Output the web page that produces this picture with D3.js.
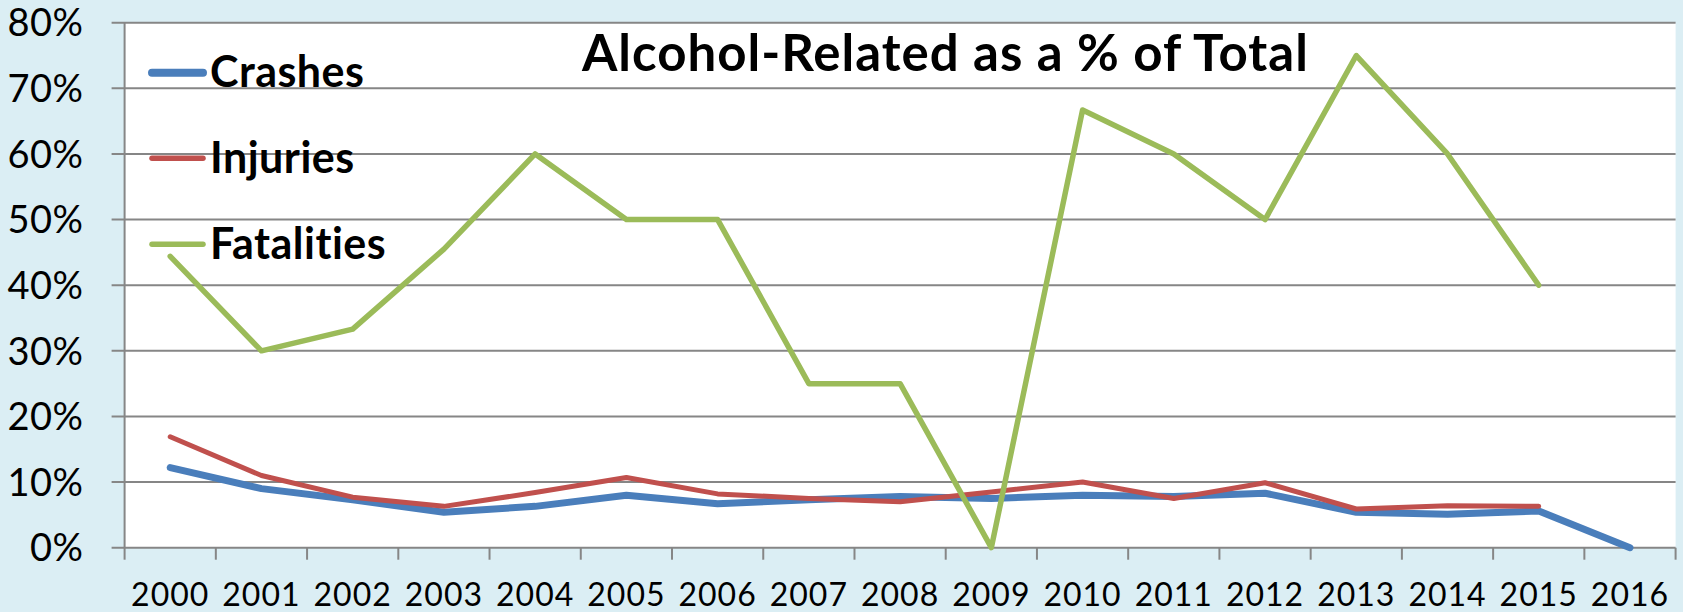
<!DOCTYPE html>
<html>
<head>
<meta charset="utf-8">
<script src="https://cdn.jsdelivr.net/npm/d3@7"></script>
<style>
html,body{margin:0;padding:0;background:#DBEEF4;}
svg{display:block;}
</style>
</head>
<body>
<svg id="chart" width="1683" height="612"></svg>
<script>
const years = ["2000","2001","2002","2003","2004","2005","2006","2007","2008","2009","2010","2011","2012","2013","2014","2015","2016"];
const crashes = [0.122,0.090,0.073,0.054,0.063,0.080,0.067,0.073,0.078,0.075,0.080,0.078,0.083,0.054,0.051,0.056,0.0];
const injuries = [0.169,0.110,0.077,0.063,0.084,0.107,0.082,0.075,0.070,0.085,0.100,0.075,0.099,0.059,0.064,0.063,null];
const fatalities = [0.444,0.300,0.333,0.455,0.600,0.500,0.500,0.250,0.250,0.0,0.667,0.600,0.500,0.750,0.600,0.400,null];
const yTicks = [0,0.1,0.2,0.3,0.4,0.5,0.6,0.7,0.8];
const seriesNames = ["Crashes","Injuries","Fatalities"];
const seriesColors = ["#4A7EBB","#C0504D","#9BBB59"];
const seriesWidths = [7,5,5.5];
const titleText = "Alcohol-Related as a % of Total";

const svg = d3.select("#chart");
const x0 = 124.6, x1 = 1675.6, yTop = 22.7, yBot = 547.7;
const x = d3.scaleBand().domain(years).range([x0, x1]);
const y = d3.scaleLinear().domain([0, 0.8]).range([yBot, yTop]);

// plot area
svg.append("rect").attr("x", x0).attr("y", yTop).attr("width", x1 - x0).attr("height", yBot - yTop).attr("fill", "#FFFFFF");

// gridlines + left ticks
svg.append("g").selectAll("line").data(yTicks).join("line")
  .attr("x1", x0 - 13).attr("x2", x1)
  .attr("y1", d => y(d)).attr("y2", d => y(d))
  .attr("stroke", "#868686").attr("stroke-width", 2);

// y axis line
svg.append("line").attr("x1", x0).attr("x2", x0).attr("y1", yTop).attr("y2", yBot)
  .attr("stroke", "#868686").attr("stroke-width", 2);

// x tick marks at category boundaries
const bounds = years.map(d => x(d)).concat([x1]);
svg.append("g").selectAll("line").data(bounds).join("line")
  .attr("x1", d => d).attr("x2", d => d).attr("y1", yBot).attr("y2", yBot + 12)
  .attr("stroke", "#868686").attr("stroke-width", 2);

// y labels
const fmt = d3.format(".0%");
svg.append("g").selectAll("text").data(yTicks).join("text")
  .attr("x", 83.5).attr("y", d => y(d))
  .attr("dy", "0.36em")
  .attr("text-anchor", "end")
  .attr("font-family", "Lato, 'Open Sans', sans-serif")
  .attr("font-size", 38)
  .attr("letter-spacing", 0.5)
  .attr("fill", "#000")
  .text(d => fmt(d));

// x labels
svg.append("g").selectAll("text").data(years).join("text")
  .attr("x", d => x(d) + x.bandwidth() / 2).attr("y", 606)
  .attr("text-anchor", "middle")
  .attr("font-family", "Lato, 'Open Sans', sans-serif")
  .attr("font-size", 32)
  .attr("letter-spacing", 1)
  .attr("fill", "#000")
  .text(d => d);

// lines
const data = [crashes, injuries, fatalities];
const line = d3.line()
  .defined(d => d != null)
  .x((d, i) => x(years[i]) + x.bandwidth() / 2)
  .y(d => y(d));
data.forEach((s, k) => {
  svg.append("path").datum(s)
    .attr("d", line)
    .attr("fill", "none")
    .attr("stroke", seriesColors[k])
    .attr("stroke-width", seriesWidths[k])
    .attr("stroke-linejoin", "round")
    .attr("stroke-linecap", "round");
});

// legend
const legY = [72.7, 158.3, 244.3];
const legW = [8, 5.5, 5.5];
const lg = svg.append("g");
seriesNames.forEach((n, k) => {
  lg.append("line").attr("x1", 152).attr("x2", 203).attr("y1", legY[k]).attr("y2", legY[k])
    .attr("stroke", seriesColors[k]).attr("stroke-width", legW[k]).attr("stroke-linecap", "round");
  lg.append("text").attr("x", 210).attr("y", legY[k] + 14.6)
    .attr("font-family", "Lato, 'Open Sans', sans-serif")
    .attr("font-weight", "bold")
    .attr("font-size", 43)
    .attr("letter-spacing", 0.5)
    .attr("fill", "#000")
    .text(n);
});

// title
svg.append("text").attr("x", 582).attr("y", 70.7)
  .attr("font-family", "Lato, 'Open Sans', sans-serif")
  .attr("font-weight", "bold")
  .attr("font-size", 51)
  .attr("letter-spacing", 1)
  .attr("fill", "#000")
  .text(titleText);
</script>
</body>
</html>
